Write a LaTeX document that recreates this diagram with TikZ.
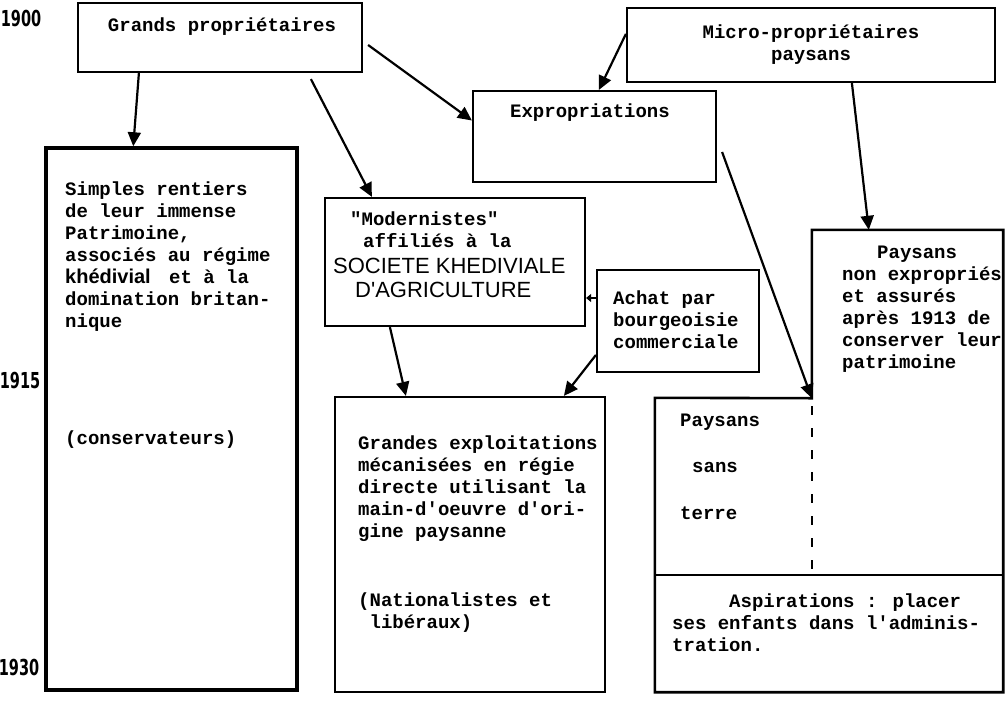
\documentclass[tikz,border=0pt]{standalone}
\usepackage{fontspec}
\usepackage{graphicx}
\setmainfont{Liberation Serif}
\newfontfamily\tw{Liberation Mono}[Ligatures=TeXOff]
\newfontfamily\sansf{Liberation Sans}[Ligatures=TeXOff]
\newfontfamily\yr{DejaVu Sans}
\usetikzlibrary{arrows.meta}
\begin{document}
\begin{tikzpicture}[x=1pt,y=-1pt,
  box/.style={draw, line width=2.2pt, inner sep=0pt},
  ghost/.style={inner sep=0pt},
  txt/.style={inner sep=0pt, align=left, font=\tw\bfseries\fontsize{19}{22}\selectfont},
  txtw/.style={txt, anchor=north west},
  txtb/.style={txt, anchor=base west},
  soc/.style={inner sep=0pt, anchor=base west, font=\sansf\fontsize{22}{22}\selectfont},
  yrs/.style={inner sep=0pt, font=\yr\bfseries\fontsize{22}{22}\selectfont},
  arr/.style={line width=2.2pt, -{Triangle[length=14pt,width=13pt]}},
  smallarr/.style={line width=2.2pt, -{Triangle[length=5pt,width=8pt]}},
  dashln/.style={line width=2pt, dash pattern=on 9pt off 13pt}
]
\fill[white] (0,0) rectangle (1006,702);
\useasboundingbox (0,0) rectangle (1006,702);

% year labels
\node[yrs] (y1900) at (21,18) {\scalebox{0.66}[1]{1900}};
\node[yrs] (y1915) at (20,380) {\scalebox{0.66}[1]{1915}};
\node[yrs] (y1930) at (19,667) {\scalebox{0.66}[1]{1930}};

% boxes
\node[box, minimum width=284pt, minimum height=69pt] (grands) at (220,37.5) {};
\node[box, minimum width=368pt, minimum height=74pt] (micro) at (811,45) {};
\node[box, minimum width=243pt, minimum height=91pt] (expro) at (594.5,136.5) {};
\node[box, line width=3.5pt, minimum width=251pt, minimum height=542pt] (simples) at (171.5,419) {};
\node[box, minimum width=260pt, minimum height=128pt] (modern) at (455,262) {};
\node[box, minimum width=162pt, minimum height=102pt] (achat) at (678,321) {};
\node[box, minimum width=270pt, minimum height=295pt] (grandes) at (470,544.5) {};

% composite peasant boxes
\node[ghost, minimum width=191pt, minimum height=168pt] (nonexp) at (907.5,314) {};
\node[ghost, minimum width=348pt, minimum height=177pt] (sansterre) at (829,486.5) {};
\node[ghost, minimum width=348pt, minimum height=117pt] (aspir) at (829,633.5) {};
\draw[line width=2.6pt] (sansterre.north west) -- (nonexp.south west) -- (nonexp.north west)
  -- (nonexp.north east) -- (aspir.south east) -- (aspir.south west) -- cycle;
\draw[line width=2pt] (aspir.north west) -- (aspir.north east);
\draw[dashln] ([yshift=-8pt]nonexp.south west) -- (nonexp.south west |- aspir.north);

% texts
\node[txt] (tg) at (222,27) {Grands propriétaires};
\node[txt, align=center] (tm) at (811,45) {Micro-propriétaires\\paysans};
\node[txt] (te) at (590,113) {Expropriations};
\node[txtw] (ts) at (65,182) {Simples rentiers\\de leur immense\\Patrimoine,\\associés au régime\\\makebox[104pt][l]{\sansf\bfseries\fontsize{20}{22}\selectfont khédivial}et à la\\domination britan-\\nique};
\node[txtw] (tc) at (65,431) {(conservateurs)};
\node[txtb] (m1) at (350,225) {"Modernistes"};
\node[txtb] (m2) at (363,247) {affiliés à la};
\node[soc] (m3) at (333,273) {SOCIETE KHEDIVIALE};
\node[soc] (m4) at (355,297) {D'AGRICULTURE};
\node[txtw] (ta) at (613,291) {Achat par\\bourgeoisie\\commerciale};
\node[txtw] (tgr) at (358,436) {Grandes exploitations\\mécanisées en régie\\directe utilisant la\\main-d'oeuvre d'ori-\\gine paysanne};
\node[txtw] (tn) at (358,593) {(Nationalistes et\\\phantom{X}libéraux)};
\node[txtb] (pn1) at (877,258) {Paysans};
\node[txtw] (pn2) at (842,267) {non expropriés\\et assurés\\après 1913 de\\conserver leur\\patrimoine};
\node[txtb] (ps1) at (680,426) {Paysans};
\node[txtb] (ps2) at (692,472) {sans};
\node[txtb] (ps3) at (680,519) {terre};
\node[txtw] (tasp) at (672,594) {\phantom{XXXXX}Aspirations : placer\\ses enfants dans l'adminis-\\tration.};

% connectors
\draw[arr] ([xshift=62pt]grands.south west) -- ([xshift=89pt]simples.north west);
\draw[arr] ([xshift=234pt,yshift=-6pt]grands.south west) -- ([xshift=48pt]modern.north west);
\draw[arr] ([xshift=5pt,yshift=-7.5pt]grands.east) -- ([yshift=16pt]expro.west);
\draw[arr] ([yshift=-27pt]micro.north west) -- ([xshift=127pt]expro.north west);
\draw[arr] ([xshift=226pt]micro.south west) -- ([xshift=57pt]nonexp.north west);
\draw[arr] ([xshift=5pt,yshift=-15.5pt]expro.east) -- (nonexp.south west);
\draw[arr] ([xshift=66pt]modern.south west) -- ([xshift=72pt]grandes.north west);
\draw[arr] ([yshift=-34pt]achat.west) -- ([xshift=230pt]grandes.north west);
\draw[smallarr] ([yshift=23pt]achat.west) -- ([yshift=-36pt]modern.east);
\end{tikzpicture}
\end{document}
